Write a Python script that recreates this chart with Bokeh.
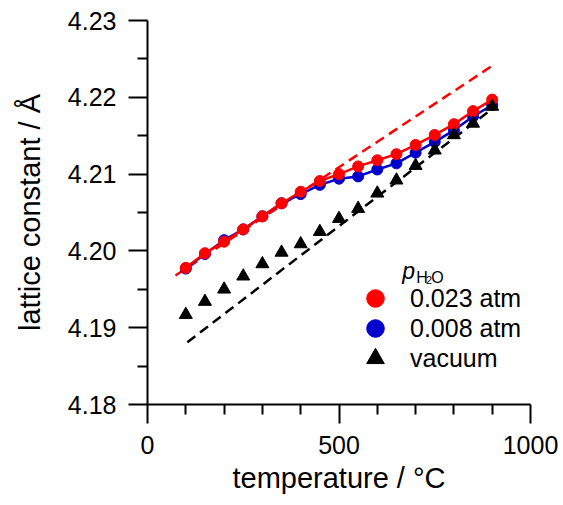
from bokeh.plotting import figure
from bokeh.models import (Range1d, FixedTicker, Legend, LegendItem, Label,
                          PrintfTickFormatter)
from bokeh.embed import file_html
from bokeh.resources import INLINE

# ---- data -------------------------------------------------------------
temperature = [100, 150, 200, 250, 300, 350, 400, 450, 500,
               550, 600, 650, 700, 750, 800, 850, 900]
a_0023 = [4.1978, 4.1997, 4.2012, 4.2028, 4.2045, 4.2062, 4.2077, 4.2091, 4.2100,
          4.2110, 4.2118, 4.2126, 4.2138, 4.2151, 4.2165, 4.2182, 4.2197]
a_0008 = [4.1977, 4.1996, 4.2014, 4.2028, 4.2045, 4.2062, 4.2074, 4.2086, 4.2094,
          4.2097, 4.2106, 4.2114, 4.2128, 4.2142, 4.2157, 4.2175, 4.2190]
a_vacuum = [4.1917, 4.1934, 4.1950, 4.1967, 4.1983, 4.1998, 4.2009, 4.2025, 4.2042,
            4.2055, 4.2075, 4.2092, 4.2111, 4.2131, 4.2151, 4.2166, 4.2188]

# linear extrapolations (dashed)
fit_T_0023 = [73, 909]
fit_a_0023 = [4.1968, 4.2244]
fit_T_vacuum = [104, 913]
fit_a_vacuum = [4.1881, 4.2190]

labels = ["0.023 atm", "0.008 atm", "vacuum"]

x_ticks = [0, 500, 1000]
x_minor = [100, 200, 300, 400, 600, 700, 800, 900]
y_ticks = [4.18, 4.19, 4.20, 4.21, 4.22, 4.23]
y_minor = [4.185, 4.195, 4.205, 4.215, 4.225]

RED = "#ff0000"
BLUE = "#0000cc"
BLACK = "#000000"
FONT = "Liberation Sans"

# ---- figure -----------------------------------------------------------
p = figure(width=563, height=505, x_range=Range1d(0, 1000), y_range=Range1d(4.18, 4.23),
           output_backend="svg", toolbar_location=None,
           min_border_left=147, min_border_right=33, min_border_top=20, min_border_bottom=101,
           x_axis_label="temperature / °C", y_axis_label="lattice constant / Å")
p.outline_line_color = None
p.grid.visible = False
p.background_fill_color = "white"
p.border_fill_color = "white"

p.xaxis.ticker = FixedTicker(ticks=x_ticks, minor_ticks=x_minor)
p.yaxis.ticker = FixedTicker(ticks=y_ticks, minor_ticks=y_minor)
p.yaxis.formatter = PrintfTickFormatter(format="%.2f")

for ax in (p.xaxis[0], p.yaxis[0]):
    ax.axis_line_width = 2
    ax.axis_line_color = BLACK
    ax.major_tick_line_width = 2
    ax.minor_tick_line_width = 2
    ax.major_tick_line_color = BLACK
    ax.minor_tick_line_color = BLACK
    ax.major_tick_in = 0
    ax.major_tick_out = 19
    ax.minor_tick_in = 0
    ax.minor_tick_out = 10
    ax.major_label_text_font = FONT
    ax.major_label_text_font_size = "25px"
    ax.major_label_text_color = BLACK
    ax.major_label_standoff = 12
    ax.axis_label_text_font = FONT
    ax.axis_label_text_font_size = "29px"
    ax.axis_label_text_font_style = "normal"
    ax.axis_label_text_color = BLACK
p.xaxis.axis_label_standoff = 5
p.yaxis.axis_label_standoff = 19

# ---- glyphs -----------------------------------------------------------
p.line(fit_T_vacuum, fit_a_vacuum, line_color=BLACK, line_width=2.5, line_dash="10 6")
p.line(fit_T_0023, fit_a_0023, line_color=RED, line_width=2.5, line_dash="10 6")

p.line(temperature, a_0008, line_color=BLUE, line_width=2.5)
r_blue = p.scatter(temperature, a_0008, marker="circle", size=11,
                   fill_color=BLUE, line_color=BLUE)
p.line(temperature, a_0023, line_color=RED, line_width=2.5)
r_red = p.scatter(temperature, a_0023, marker="circle", size=11,
                  fill_color=RED, line_color=RED)
r_vac = p.scatter(temperature, a_vacuum, marker="triangle", size=13,
                  fill_color=BLACK, line_color=BLACK)

# ---- legend (one single-row legend per entry, so rows can be tight) ---
for label, rend, vy in zip(labels, [r_red, r_blue, r_vac], [84, 54, 24]):
    lg = Legend(items=[LegendItem(label=label, renderers=[rend])],
                location=(206, vy), glyph_width=44, glyph_height=44, spacing=0,
                padding=0, margin=0, label_standoff=13,
                label_text_font=FONT, label_text_font_size="25px",
                label_text_color=BLACK,
                border_line_color=None, background_fill_alpha=0)
    p.add_layout(lg)

# legend title p_H2O
title_parts = [("p", 254.7, 133.3, "23px", "italic"),
               ("H", 268.7, 127.3, "16px", "normal"),
               ("2", 278.5, 125.0, "11px", "normal"),
               ("O", 283.7, 127.3, "16px", "normal")]
for txt, sx, sy, fs, st in title_parts:
    p.add_layout(Label(x=sx, y=sy, x_units="screen", y_units="screen", text=txt,
                       text_font=FONT, text_font_size=fs, text_font_style=st,
                       text_color=BLACK, text_baseline="alphabetic", text_align="left"))

open("out.html", "w").write(file_html(p, INLINE))
